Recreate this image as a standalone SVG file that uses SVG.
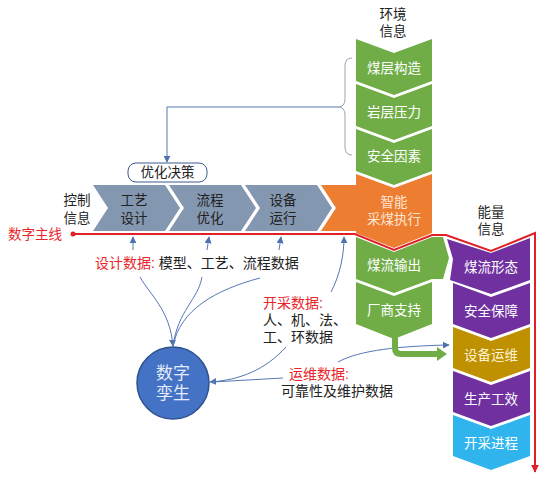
<svg xmlns="http://www.w3.org/2000/svg" width="547" height="483" viewBox="0 0 547 483">
<defs>
<marker id="ab" viewBox="0 0 10 10" refX="9" refY="5" markerWidth="7" markerHeight="7" markerUnits="userSpaceOnUse" orient="auto"><path d="M0,0 L10,5 L0,10 z" fill="#4f72b0"/></marker>
<marker id="ar" viewBox="0 0 10 10" refX="9" refY="5" markerWidth="8" markerHeight="8" markerUnits="userSpaceOnUse" orient="auto"><path d="M0,0 L10,5 L0,10 z" fill="#e01f26"/></marker>
</defs>
<style>
text{font-family:"Liberation Sans","Noto Sans CJK SC",sans-serif;font-size:13.5px;text-anchor:middle;dominant-baseline:central}
.w{fill:#ffffff}
.k{fill:#222222}
.r{fill:#e8262a}
.c{fill:none;stroke:#5676b4;stroke-width:1}
.grey{fill:#8497b0}
.green{fill:#70ad47}
.orange{fill:#ed7d31}
.purple{fill:#7030a0}
.gold{fill:#bf9000}
.cyan{fill:#30b4ee}
</style>
<rect width="547" height="483" fill="#ffffff"/>

<g id="labels">
<text x="393" y="14" class="k">环境</text>
<text x="393" y="31" class="k">信息</text>
<text x="77" y="200" class="k">控制</text>
<text x="77" y="218" class="k">信息</text>
<text x="491" y="212" class="k">能量</text>
<text x="491" y="229" class="k">信息</text>
<text x="35" y="234" class="r">数字主线</text>
</g>

<g id="ctrl-chevrons">
<g id="n-gongyi"><polygon class="grey" points="93,185 165,185 180,208 165,231 93,231 108,208"/><text x="134" y="200" class="k">工艺</text><text x="134" y="218" class="k">设计</text></g>
<g id="n-liucheng"><polygon class="grey" points="169,185 241,185 256,208 241,231 169,231 184,208"/><text x="210" y="200" class="k">流程</text><text x="210" y="218" class="k">优化</text></g>
<g id="n-shebei"><polygon class="grey" points="245,185 317,185 332,208 317,231 245,231 260,208"/><text x="283" y="200" class="k">设备</text><text x="283" y="218" class="k">运行</text></g>
</g>

<g id="env-column">
<g id="n-meiceng"><polygon class="green" points="356,39 394,53 432,39 432,81 394,95 356,81"/><text x="394" y="68" class="w">煤层构造</text></g>
<g id="n-yanceng"><polygon class="green" points="356,84 394,98 432,84 432,126 394,140 356,126"/><text x="394" y="112" class="w">岩层压力</text></g>
<g id="n-anquan"><polygon class="green" points="356,129 394,143 432,129 432,171 394,185 356,171"/><text x="394" y="156" class="w">安全因素</text></g>
<g id="n-zhineng"><polygon class="orange" points="321,185 356,185 356,174 394,188 432,174 432,233 394,248 356,233 356,231 321,231 336,208"/><text x="394" y="202" fill="#fde6d4">智能</text><text x="394" y="219" fill="#fde6d4">采煤执行</text></g>
<g id="n-meiliu"><polygon class="green" points="356,237 394,252 432,237 443,237 449,258 443,279 432,279 394,293 356,279"/><text x="394" y="265" class="w">煤流输出</text></g>
<g id="n-changshang"><polygon class="green" points="356,282 394,296 432,282 432,324 394,339 356,324"/><text x="394" y="310" class="w">厂商支持</text></g>
</g>

<g id="energy-column">
<g id="n-meiliuxingtai"><polygon class="purple" points="447,239 491,253 530,238 530,280 491,294 450,280 453,259"/><text x="491" y="267" class="w">煤流形态</text></g>
<g id="n-anquanbaozhang"><polygon class="purple" points="453,283 491,297 530,283 530,324 491,338 453,324"/><text x="491" y="311" class="w">安全保障</text></g>
<g id="n-shebeiyunwei"><polygon class="gold" points="453,327 491,341 530,327 530,368 491,382 453,368"/><text x="491" y="355" fill="#fff3d0">设备运维</text></g>
<g id="n-shengchan"><polygon class="purple" points="453,371 491,385 530,371 530,412 491,426 453,412"/><text x="491" y="399" class="w">生产工效</text></g>
<g id="n-kaicai"><polygon class="cyan" points="453,415 491,429 530,415 530,456 491,470 453,456"/><text x="491" y="443" class="w">开采进程</text></g>
</g>

<g id="n-youhua">
<rect x="128" y="163" width="79" height="19" rx="8" fill="#ffffff" stroke="#3d5a8e" stroke-width="1"/>
<text x="167.5" y="172.5" class="k">优化决策</text>
</g>

<g id="n-twin">
<circle cx="173" cy="383" r="36" fill="#4472c4" stroke="#2f528f" stroke-width="1.5"/>
<text x="173" y="373" style="font-size:17px" fill="#e4ecfa">数字</text>
<text x="173" y="393" style="font-size:17px" fill="#e4ecfa">孪生</text>
</g>

<g id="data-labels">
<text x="95" y="263" style="text-anchor:start;font-size:14px"><tspan class="r">设计数据:</tspan><tspan class="k"> 模型、工艺、流程数据</tspan></text>
<text x="263" y="303" style="text-anchor:start;font-size:14px" class="r">开采数据:</text>
<text x="263" y="320" style="text-anchor:start;font-size:14px" class="k">人、机、法、</text>
<text x="263" y="337" style="text-anchor:start;font-size:14px" class="k">工、环数据</text>
<text x="289" y="374" style="text-anchor:start;font-size:14px" class="r">运维数据:</text>
<text x="281" y="391" style="text-anchor:start;font-size:14px" class="k">可靠性及维护数据</text>
</g>

<g id="connectors">
<path d="M73,234 H355 L394,250 L432,235 H446 L491,251 L535,233 V472" fill="none" stroke="#e01f26" stroke-width="2" marker-end="url(#ar)"/>
<circle cx="73" cy="234" r="2.5" fill="#e01f26"/>
<path d="M352,58 Q345,58 345,66 V99 Q345,107 338,107 Q345,107 345,115 V147 Q345,155 352,155" fill="none" stroke="#9aa3b5" stroke-width="1"/>
<path class="c" d="M338,107 H167 V162" marker-end="url(#ab)"/>
<path class="c" d="M133,250 V237" marker-end="url(#ab)"/>
<path class="c" d="M207,250 L209,237" marker-end="url(#ab)"/>
<path class="c" d="M279,250 L281,237" marker-end="url(#ab)"/>
<path class="c" d="M331,292 C340,275 344,255 344,237" marker-end="url(#ab)"/>
<path class="c" d="M140,277 C150,295 170,310 173,346" marker-end="url(#ab)"/>
<path class="c" d="M202,277 C198,300 178,310 173,346"/>
<path class="c" d="M260,278 C215,290 180,310 173,346"/>
<path class="c" d="M286,347 C265,370 240,380 210,382" marker-end="url(#ab)"/>
<path class="c" d="M283,378 L212,382"/>
<path class="c" d="M338,362 C360,350 400,346 449,345" marker-end="url(#ab)"/>
<path d="M395,336 V348 Q395,354 401,354 H438" fill="none" stroke="#70ad47" stroke-width="6"/>
<polygon points="437,347 447,354 437,361" fill="#70ad47"/>
</g>
</svg>
